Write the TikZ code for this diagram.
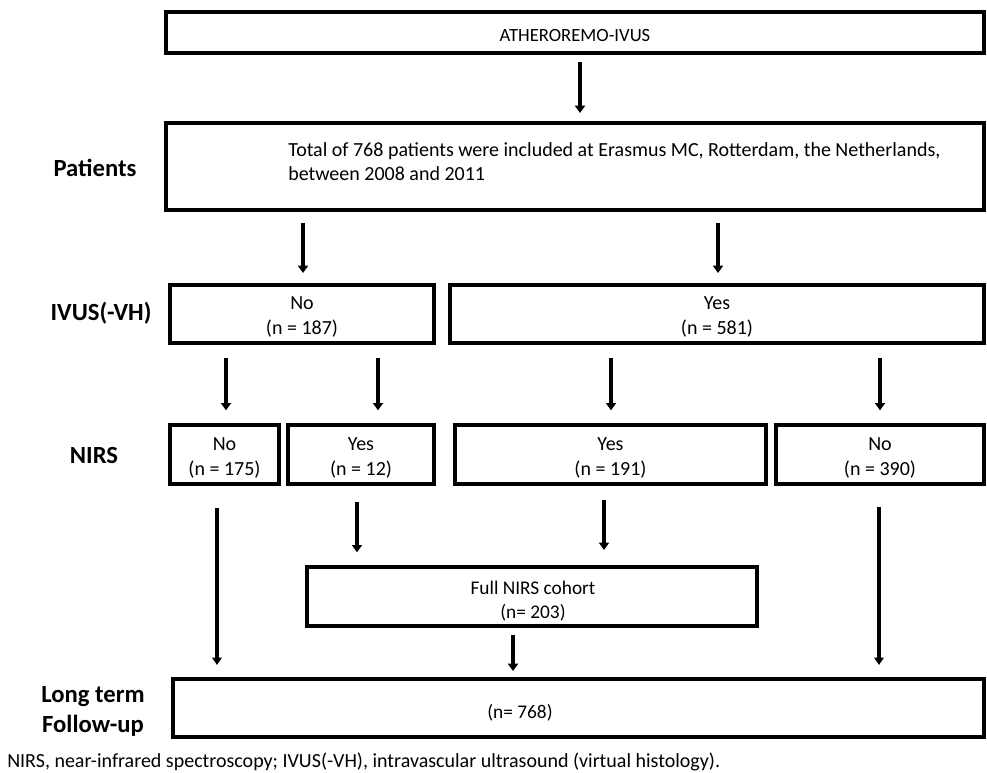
\documentclass[tikz,border=0pt]{standalone}
\usepackage{fontspec}
\setmainfont{Carlito}
\usetikzlibrary{fit,arrows.meta}
\begin{document}
\begin{tikzpicture}[x=0.75pt,y=-0.75pt,
  box/.style={draw, line width=2.7pt, inner sep=0pt, outer sep=0pt},
  txt/.style={align=center, inner sep=0pt, font=\fontsize{15}{18.75}\selectfont},
  arr/.style={line width=2.7pt, -{Triangle[width=7.5pt,length=5.5pt]}},
  thinarr/.style={line width=2.4pt, -{Triangle[width=7pt,length=5.5pt]}},
  lab/.style={font=\bfseries\fontsize{18.5}{22.5}\selectfont, align=center}]
\useasboundingbox (0,0) rectangle (987,773);

% boxes
\node[box, fit={(166,12) (984,53)}] (athero) {};
\node[txt, font=\fontsize{14}{18}\selectfont] (atherotxt) at (575,36) {ATHEROREMO-IVUS};
\node[box, fit={(166,123) (984,210)}] (pat) {};
\node[anchor=west, align=left, inner sep=0pt, font=\fontsize{15}{18}\selectfont] (pattxt) at (288,162)
  {Total of 768 patients were included at Erasmus MC, Rotterdam, the Netherlands,\\between 2008 and 2011};

\node[box, fit={(170,285) (434,343)}] (ivno) {};
\node[txt] (ivnotxt) at (302,317) {No\\(n = 187)};
\node[box, fit={(450,285) (984,343)}] (ivyes) {};
\node[txt] (ivyestxt) at (717,317) {Yes\\(n = 581)};

\node[box, fit={(170,425) (279,484)}] (nno) {};
\node[txt] (nnotxt) at (224.5,458) {No\\(n = 175)};
\node[box, fit={(288,425) (434,484)}] (nyes12) {};
\node[txt] (nyes12txt) at (361,458) {Yes\\(n = 12)};
\node[box, fit={(455,425) (766,484)}] (nyes191) {};
\node[txt] (nyes191txt) at (610.5,458) {Yes\\(n = 191)};
\node[box, fit={(776,425) (984,484)}] (nno390) {};
\node[txt] (nno390txt) at (880,458) {No\\(n = 390)};

\node[box, fit={(307,567) (757,626)}] (coh) {};
\node[txt, font=\fontsize{14.5}{18}\selectfont] (cohtxt) at (533,601) {Full NIRS cohort\\(n= 203)};
\node[box, fit={(173,679) (984,737)}] (ltf) {};
\node[txt, font=\fontsize{14.5}{18}\selectfont] (ltftxt) at (520,713) {(n= 768)};

% row labels
\node[lab] (lpat) at (95,168) {Patients};
\node[lab] (livus) at (101,313) {IVUS(-VH)};
\node[lab] (lnirs) at (94,455) {NIRS};
\node[lab] (lltf) at (93,711) {Long term\\Follow-up};

% caption
\node[anchor=west, inner sep=0pt, font=\fontsize{15}{18}\selectfont] (cap) at (7,762)
  {NIRS, near-infrared spectroscopy; IVUS(-VH), intravascular ultrasound (virtual histology).};

% x positions of connectors
\coordinate (x580) at (580,0);
\coordinate (x303) at (303,0);
\coordinate (x718) at (718,0);
\coordinate (x226) at (226,0);
\coordinate (x378) at (378,0);
\coordinate (x611) at (611,0);
\coordinate (x880) at (880,0);
\coordinate (x217) at (217,0);
\coordinate (x357) at (357,0);
\coordinate (x604) at (604,0);
\coordinate (x879) at (879,0);
\coordinate (x513) at (513,0);

% connectors
\draw[arr, shorten <=6.75pt, shorten >=7.5pt] (athero.south -| x580) -- (pat.north -| x580);
\draw[arr, shorten <=9.75pt, shorten >=9pt] (pat.south -| x303) -- (ivno.north -| x303);
\draw[arr, shorten <=9.75pt, shorten >=9pt] (pat.south -| x718) -- (ivyes.north -| x718);
\draw[arr, shorten <=11pt, shorten >=11pt] (ivno.south -| x226) -- (nno.north -| x226);
\draw[arr, shorten <=11pt, shorten >=11pt] (ivno.south -| x378) -- (nyes12.north -| x378);
\draw[arr, shorten <=11pt, shorten >=11pt] (ivyes.south -| x611) -- (nyes191.north -| x611);
\draw[arr, shorten <=11pt, shorten >=11pt] (ivyes.south -| x880) -- (nno390.north -| x880);
\draw[thinarr, shorten <=18pt, shorten >=10.5pt] (nno.south -| x217) -- (ltf.north -| x217);
\draw[arr, shorten <=13.5pt, shorten >=11pt] (nyes12.south -| x357) -- (coh.north -| x357);
\draw[arr, shorten <=12pt, shorten >=12.75pt] (nyes191.south -| x604) -- (coh.north -| x604);
\draw[thinarr, shorten <=17pt, shorten >=10.5pt] (nno390.south -| x879) -- (ltf.north -| x879);
\draw[arr, shorten <=6.75pt, shorten >=6pt] (coh.south -| x513) -- (ltf.north -| x513);
\end{tikzpicture}
\end{document}
